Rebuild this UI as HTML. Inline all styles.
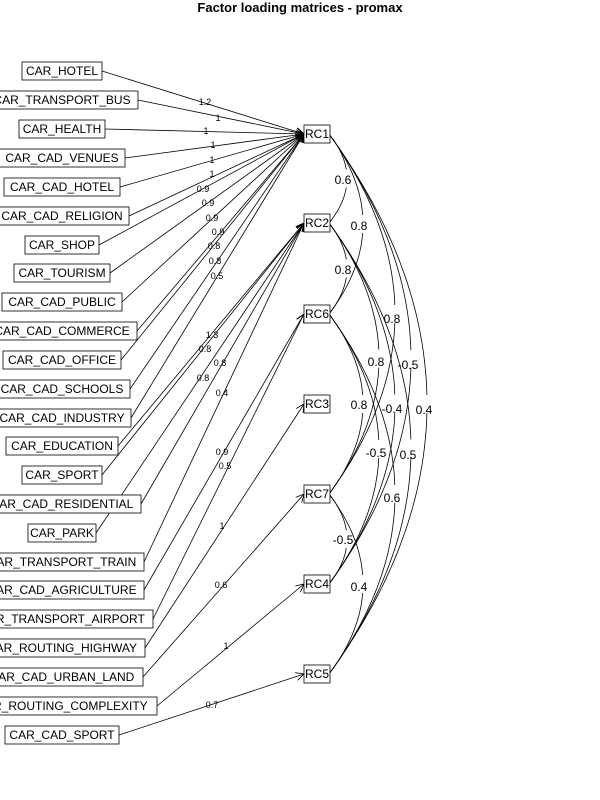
<!DOCTYPE html>
<html><head><meta charset="utf-8"><style>
body{margin:0;background:#fff;}
svg{display:block;font-family:"Liberation Sans",sans-serif;}
.v{font-size:12px;}
.l{font-size:9px;}
.c{font-size:12px;}
</style></head><body>
<svg id="s" width="600" height="800" viewBox="0 0 600 800">
<defs><marker id="a" markerWidth="10" markerHeight="10" refX="9" refY="5" orient="auto" markerUnits="userSpaceOnUse"><path d="M1,1 L9,5 L1,9" fill="none" stroke="#000" stroke-width="0.8"/></marker></defs>
<text x="300" y="12" text-anchor="middle" font-weight="bold" font-size="13">Factor loading matrices - promax</text>
<g id="edges" stroke="#000" stroke-width="0.8" fill="none"></g>
<g id="curves" stroke="#000" stroke-width="0.8" fill="none"></g>
<g id="boxes" fill="#fff" stroke="#000" stroke-width="0.8"></g>
<g class="v" text-anchor="middle">
<text x="62" y="75">CAR_HOTEL</text>
<text x="62" y="104">CAR_TRANSPORT_BUS</text>
<text x="62" y="133">CAR_HEALTH</text>
<text x="62" y="162">CAR_CAD_VENUES</text>
<text x="62" y="191">CAR_CAD_HOTEL</text>
<text x="62" y="220">CAR_CAD_RELIGION</text>
<text x="62" y="249">CAR_SHOP</text>
<text x="62" y="277">CAR_TOURISM</text>
<text x="62" y="306">CAR_CAD_PUBLIC</text>
<text x="62" y="335">CAR_CAD_COMMERCE</text>
<text x="62" y="364">CAR_CAD_OFFICE</text>
<text x="62" y="393">CAR_CAD_SCHOOLS</text>
<text x="62" y="422">CAR_CAD_INDUSTRY</text>
<text x="62" y="450">CAR_EDUCATION</text>
<text x="62" y="479">CAR_SPORT</text>
<text x="62" y="508">CAR_CAD_RESIDENTIAL</text>
<text x="62" y="537">CAR_PARK</text>
<text x="62" y="566">CAR_TRANSPORT_TRAIN</text>
<text x="62" y="594">CAR_CAD_AGRICULTURE</text>
<text x="62" y="623">CAR_TRANSPORT_AIRPORT</text>
<text x="62" y="652">CAR_ROUTING_HIGHWAY</text>
<text x="62" y="681">CAR_CAD_URBAN_LAND</text>
<text x="62" y="710">CAR_ROUTING_COMPLEXITY</text>
<text x="62" y="739">CAR_CAD_SPORT</text>
</g>
<g class="v" text-anchor="middle">
<text x="317" y="138">RC1</text><text x="317" y="227">RC2</text><text x="317" y="318">RC6</text>
<text x="317" y="408">RC3</text><text x="317" y="498">RC7</text><text x="317" y="588">RC4</text><text x="317" y="678">RC5</text>
</g>
<g class="l" text-anchor="middle">
<text x="205" y="105">1.2</text><text x="218" y="121">1</text><text x="206" y="134">1</text><text x="213" y="148">1</text>
<text x="212" y="163">1</text><text x="212" y="177">1</text><text x="203" y="192">0.9</text><text x="208" y="206">0.9</text>
<text x="212" y="221">0.9</text><text x="218" y="235">0.9</text><text x="214" y="249">0.8</text><text x="215" y="264">0.8</text>
<text x="217" y="279">0.5</text>
<text x="212" y="338">1.3</text><text x="205" y="352">0.8</text><text x="220" y="366">0.8</text><text x="203" y="381">0.8</text><text x="222" y="396">0.4</text>
<text x="222" y="455">0.9</text><text x="225" y="469">0.5</text><text x="222" y="529">1</text><text x="221" y="588">0.6</text>
<text x="226" y="649">1</text><text x="212" y="708">0.7</text>
</g>
<g class="c" text-anchor="middle">
<text x="343" y="184">0.6</text><text x="359" y="230">0.8</text><text x="343" y="274">0.8</text><text x="392" y="323">0.8</text>
<text x="376" y="366">0.8</text><text x="408" y="369">-0.5</text><text x="359" y="409">0.8</text><text x="392" y="413">-0.4</text>
<text x="424" y="414">0.4</text><text x="376" y="457">-0.5</text><text x="408" y="459">0.5</text><text x="392" y="502">0.6</text>
<text x="343" y="544">-0.5</text><text x="359" y="591">0.4</text>
</g>
</svg>
<script>
var NS="http://www.w3.org/2000/svg";
function el(p,t,a){var e=document.createElementNS(NS,t);for(var k in a)e.setAttribute(k,a[k]);p.appendChild(e);return e;}
var ys=[71,100,129,158,187,216,245,273,302,331,360,389,418,446,475,504,533,562,590,619,648,677,706,735];
var rs=[102,138,105,125,120,129,99,110,122,137,121,130,131,118,102,141,96,144,144,153,145,143,157,119];
var fy={RC1:134,RC2:223,RC6:314,RC3:404,RC7:494,RC4:584,RC5:674};
var tg=["RC1","RC1","RC1","RC1","RC1","RC1","RC1","RC1","RC1","RC1","RC1","RC1","RC1","RC2","RC2","RC2","RC2","RC2","RC6","RC6","RC3","RC7","RC4","RC5"];
var E=document.getElementById("edges"),B=document.getElementById("boxes"),C=document.getElementById("curves");
for(var i=0;i<24;i++){
 el(E,"line",{x1:rs[i],y1:ys[i],x2:304,y2:fy[tg[i]],"marker-end":"url(#a)"});
 var l=124-rs[i];el(B,"rect",{x:l,y:ys[i]-9,width:rs[i]-l,height:18});
}
for(var k in fy)el(B,"rect",{x:304,y:fy[k]-9,width:26,height:18});
var pr=[["RC1","RC2"],["RC1","RC6"],["RC2","RC6"],["RC1","RC7"],["RC2","RC7"],["RC1","RC4"],["RC6","RC7"],["RC2","RC4"],["RC1","RC5"],["RC6","RC4"],["RC2","RC5"],["RC6","RC5"],["RC7","RC4"],["RC7","RC5"]];
pr.forEach(function(p){
 var y1=fy[p[0]],y2=fy[p[1]],d=Math.round((y2-y1)/90),px=327+16*d+4,cx=2*px-329,cy=(y1+y2)/2;
 function B2(t){var u=1-t;return [u*u*329+2*t*u*cx+t*t*329,u*u*y1+2*t*u*cy+t*t*y2];}
 var g=9/(y2-y1);
 [[0,0.5-g],[0.5+g,1]].forEach(function(r){var s="";for(var t=r[0];t<=r[1]+1e-9;t+=(r[1]-r[0])/30){var q=B2(t);s+=(s?"L":"M")+q[0].toFixed(1)+","+q[1].toFixed(1);}el(C,"path",{d:s});});
});
</script>
</body></html>
